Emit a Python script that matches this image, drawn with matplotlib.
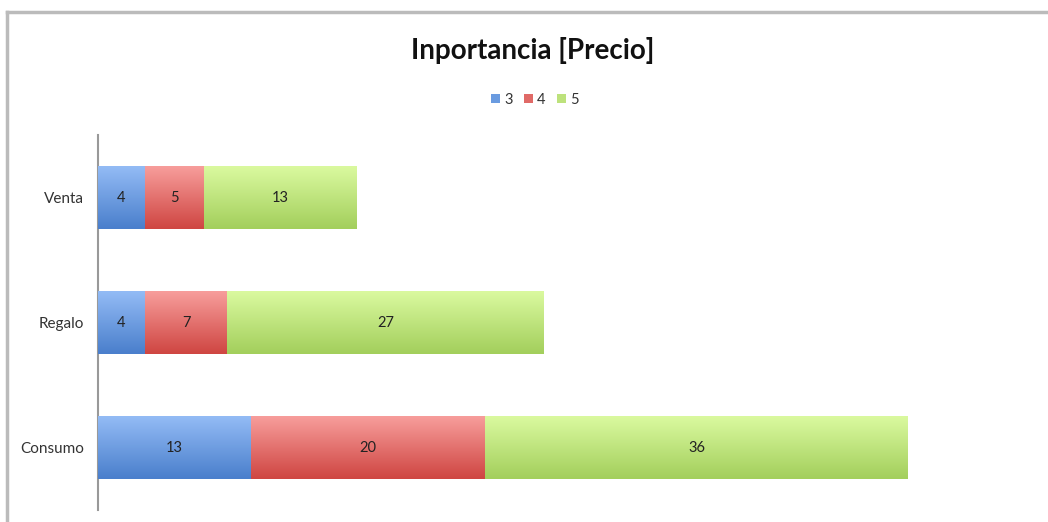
import numpy as np
import matplotlib
matplotlib.use('Agg')
import matplotlib.pyplot as plt
from matplotlib.colors import LinearSegmentedColormap
from matplotlib.lines import Line2D
from matplotlib.patches import Patch

########## data #################
categorias = ['Consumo', 'Regalo', 'Venta']
series = ['3', '4', '5']
v3 = [13, 4, 4]
v4 = [20, 7, 5]
v5 = [36, 27, 13]

########## styles #################
plt.rcParams['font.family'] = ['Lato', 'DejaVu Sans']
col_mid = ['#6A9BE0', '#E06A67', '#BDE27C']
col_top = ['#93BBF5', '#F79D9B', '#DAF99F']
col_bot = ['#4A7FCC', '#CF4642', '#A3CF5C']

fig = plt.figure(figsize=(10.48, 5.22), dpi=100)
ax = fig.add_axes([98/1048, 1-510/522, (80*11.74)/1048, (510-135)/522])

y = np.arange(len(categorias))
left = np.zeros(len(categorias))
for k, vals in enumerate([v3, v4, v5]):
    bars = ax.barh(y, vals, left=left, height=0.5, color=col_mid[k], edgecolor='none', zorder=2)
    cmap = LinearSegmentedColormap.from_list('g%d' % k, [col_bot[k], col_top[k]])
    grad = np.linspace(0, 1, 64).reshape(-1, 1)
    for b, v in zip(bars, vals):
        x0, y0 = b.get_x(), b.get_y()
        w, h = b.get_width(), b.get_height()
        im = ax.imshow(grad, cmap=cmap, aspect='auto', origin='lower',
                       extent=[x0, x0 + w, y0, y0 + h], zorder=3)
        im.set_clip_path(b)
        ax.text(x0 + w/2, y0 + h/2, str(v), ha='center', va='center',
                fontsize=10.5, color='#222222', zorder=4)
    left = left + np.array(vals)

ax.set_xlim(0, 80)
ax.set_ylim(-0.5, 2.5)
ax.set_yticks(y)
ax.set_yticklabels(categorias, fontsize=11, color='#333333')
ax.tick_params(axis='y', length=0, pad=10)
ax.set_xticks([])
for s in ['top', 'right', 'bottom']:
    ax.spines[s].set_visible(False)
ax.spines['left'].set_color('#999999')
ax.spines['left'].set_linewidth(1.5)

fig.text(533/1048, 1-50/522, 'Inportancia [Precio]', ha='center', va='center',
         fontsize=20, fontweight='bold', color='#111111')

handles = [Patch(facecolor=col_mid[k], edgecolor='none') for k in range(3)]
fig.legend(handles, series, loc='center', bbox_to_anchor=(535/1048, 1-100/522),
           ncol=3, frameon=False, fontsize=10.5, handlelength=0.6, handleheight=0.6,
           handletextpad=0.3, columnspacing=0.8, labelcolor='#333333')

# outer frame
fig.add_artist(Line2D([7/1048, 1], [1-12/522, 1-12/522], color='#BBBBBB', lw=2.5))
fig.add_artist(Line2D([7/1048, 7/1048], [0, 1-12/522], color='#BBBBBB', lw=2.5))

fig.savefig('out.png', dpi=100)
